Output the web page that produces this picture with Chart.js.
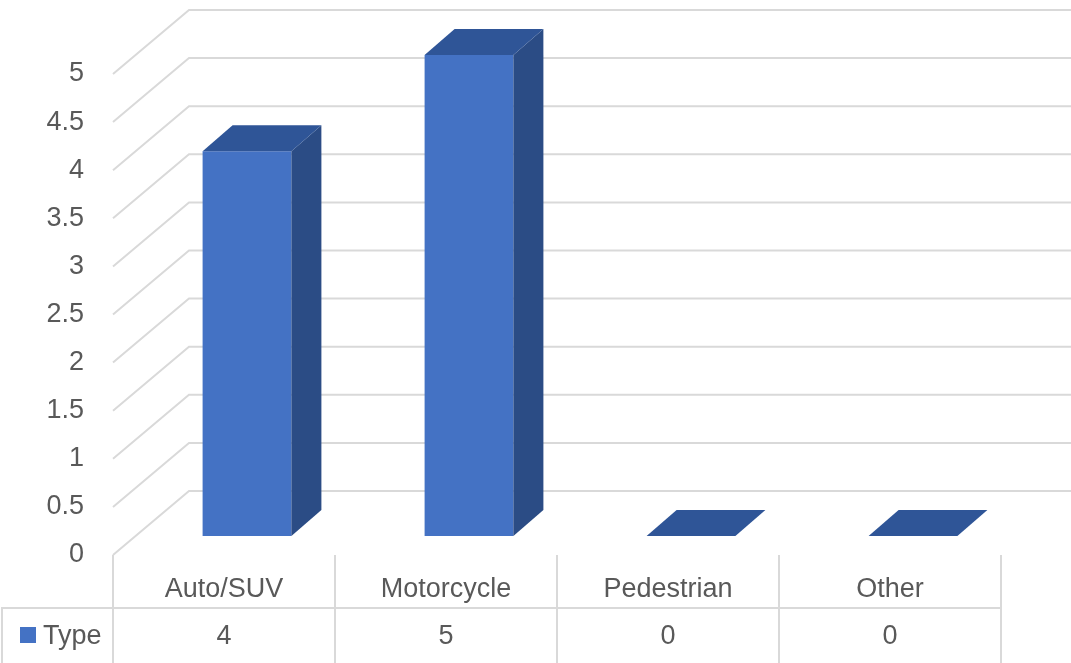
<!DOCTYPE html>
<html>
<head>
<meta charset="utf-8">
<script src="https://cdn.jsdelivr.net/npm/chart.js@4/dist/chart.umd.min.js"></script>
<style>
  html, body { margin: 0; padding: 0; background: #ffffff; }
  #wrap { width: 1071px; height: 663px; position: relative; }
</style>
</head>
<body>
<div id="wrap"><canvas id="c" width="1071" height="663"></canvas></div>
<script>
// ---- data ----
const categories = ['Auto/SUV', 'Motorcycle', 'Pedestrian', 'Other'];
const seriesName = 'Type';
const typeValues = [4, 5, 0, 0];
const yMin = 0;
const yMax = 5;
const yStep = 0.5;

// ---- style ----
const FONT = '"Liberation Sans", Arial, sans-serif';
const FSIZE = 27;
const TEXT = '#595959';
const GRID = '#D9D9D9';
const FRONT = '#4472C4';
const TOP = '#2F5597';
const SIDE = '#2B4C85';
// perspective offsets relative to the bar front plane
const FRONT_PLANE = { dx: -23, dy: 19 };   // floor / table plane
const WALL = { dx: 53, dy: -45 };          // back wall
const DEPTH = { dx: 30, dy: -26 };         // bar depth

const threeD = {
  id: 'threeD',
  beforeDatasetsDraw(chart) {
    const ctx = chart.ctx;
    const y = chart.scales.y;
    const area = chart.chartArea;
    const fx = area.left + FRONT_PLANE.dx;
    const bx = area.left + WALL.dx;
    ctx.save();
    ctx.strokeStyle = GRID;
    ctx.lineWidth = 2;
    y.ticks.forEach(t => {
      const py = y.getPixelForValue(t.value);
      ctx.beginPath();
      ctx.moveTo(fx, py + FRONT_PLANE.dy);
      ctx.lineTo(bx, py + WALL.dy);
      ctx.lineTo(chart.width, py + WALL.dy);
      ctx.stroke();
    });
    ctx.restore();
  },
  afterDatasetsDraw(chart) {
    const ctx = chart.ctx;
    const meta = chart.getDatasetMeta(0);
    ctx.save();
    meta.data.forEach(bar => {
      const x1 = bar.x - bar.width / 2;
      const x2 = bar.x + bar.width / 2;
      const yt = bar.y;
      const yb = bar.base;
      if (yb - yt > 0.5) {
        ctx.fillStyle = SIDE;
        ctx.beginPath();
        ctx.moveTo(x2, yt);
        ctx.lineTo(x2 + DEPTH.dx, yt + DEPTH.dy);
        ctx.lineTo(x2 + DEPTH.dx, yb + DEPTH.dy);
        ctx.lineTo(x2, yb);
        ctx.closePath();
        ctx.fill();
      }
      ctx.fillStyle = TOP;
      ctx.beginPath();
      ctx.moveTo(x1, yt);
      ctx.lineTo(x2, yt);
      ctx.lineTo(x2 + DEPTH.dx, yt + DEPTH.dy);
      ctx.lineTo(x1 + DEPTH.dx, yt + DEPTH.dy);
      ctx.closePath();
      ctx.fill();
    });
    ctx.restore();
  },
  afterDraw(chart) {
    const ctx = chart.ctx;
    const x = chart.scales.x;
    const y = chart.scales.y;
    const area = chart.chartArea;
    const n = categories.length;
    const cw = (area.right - area.left) / n;
    const left = area.left + FRONT_PLANE.dx;
    const right = left + n * cw;
    const rowTop = y.getPixelForValue(0) + FRONT_PLANE.dy;
    const midLine = 608;
    const bottom = chart.height;
    ctx.save();
    ctx.strokeStyle = GRID;
    ctx.lineWidth = 2;
    ctx.beginPath();
    for (let i = 0; i <= n; i++) {
      const vx = left + i * cw;
      ctx.moveTo(vx, rowTop);
      ctx.lineTo(vx, bottom);
    }
    ctx.moveTo(2, midLine);
    ctx.lineTo(2, bottom);
    ctx.moveTo(1, midLine);
    ctx.lineTo(right, midLine);
    ctx.stroke();

    ctx.fillStyle = FRONT;
    ctx.fillRect(20, 627, 16, 16);
    ctx.fillStyle = TEXT;
    ctx.font = FSIZE + 'px ' + FONT;
    ctx.textBaseline = 'middle';
    ctx.textAlign = 'left';
    ctx.fillText(seriesName, 43, 637);

    ctx.textAlign = 'center';
    categories.forEach((c, i) => {
      const cx = x.getPixelForValue(i) + FRONT_PLANE.dx;
      ctx.fillText(c, cx, 590);
      ctx.fillText(String(typeValues[i]), cx, 637);
    });
    ctx.restore();
  }
};

new Chart(document.getElementById('c'), {
  type: 'bar',
  data: {
    labels: categories,
    datasets: [{
      label: seriesName,
      data: typeValues,
      backgroundColor: FRONT,
      borderWidth: 0,
      categoryPercentage: 1.0,
      barPercentage: 0.4
    }]
  },
  options: {
    responsive: false,
    animation: false,
    devicePixelRatio: 1,
    layout: { padding: { left: 0, right: 47, top: 55, bottom: 127 } },
    plugins: { legend: { display: false }, tooltip: { enabled: false } },
    scales: {
      x: { display: false },
      y: {
        min: yMin,
        max: yMax,
        afterFit(scale) {
          scale.width = 136;
          scale.paddingTop = 0;
          scale.paddingBottom = 0;
        },
        grid: { display: false, drawTicks: false },
        border: { display: false },
        ticks: {
          stepSize: yStep,
          padding: 52,
          labelOffset: 19,
          color: TEXT,
          font: { family: FONT, size: FSIZE },
          callback: (v) => String(v)
        }
      }
    }
  },
  plugins: [threeD]
});
</script>
</body>
</html>
